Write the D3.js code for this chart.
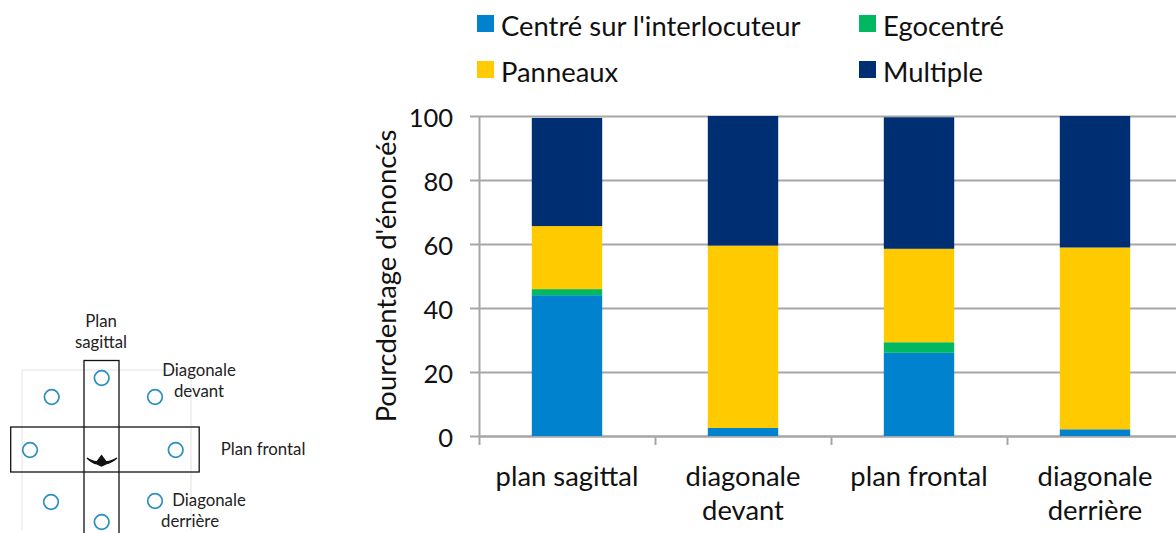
<!DOCTYPE html>
<html>
    <head>
        <meta charset="utf-8">
        <title>Pourcentage d'énoncés</title>
        <style>
            html, body { margin: 0; padding: 0; background: #fff; }
            svg { display: block; }
            text { font-family: Lato, "Open Sans", sans-serif; fill: #111; }
            .axis text { font-size: 27.4px; }
            .axis .tick text { font-size: 25.5px; }
            .legend text { font-size: 27.4px; }
            .diagram text { font-size: 16.8px; fill: #222; }
            .axis .domain, .axis line { stroke: #a6a6a6; stroke-width: 2; }
        </style>
    </head>
    <body>
        <div id="chart"></div>
        <script src="https://cdn.jsdelivr.net/npm/d3@7/dist/d3.min.js"></script>
        <script>
            var categories = ['plan sagittal', 'diagonale devant', 'plan frontal', 'diagonale derrière'];
            var categoryLines = [['plan sagittal'], ['diagonale', 'devant'], ['plan frontal'], ['diagonale', 'derrière']];
            var seriesNames = ["Centré sur l'interlocuteur", 'Egocentré', 'Panneaux', 'Multiple'];
            var seriesColors = ['#0082ce', '#00b85f', '#ffca00', '#002e73'];
            var centre = [44.0, 2.5, 26.0, 2.1];
            var ego = [1.9, 0, 3.3, 0];
            var panneaux = [19.7, 57.0, 29.2, 56.8];
            var multiple = [33.8, 40.5, 41.1, 41.1];
            var yTicks = [0, 20, 40, 60, 80, 100];
            var yTitle = "Pourcdentage d'énoncés";

            var width = 1176, height = 533;
            var plotLeft = 479, plotRight = 1183, plotTop = 116, plotBottom = 436;

            var svg = d3.select('#chart').append('svg')
                .attr('width', width)
                .attr('height', height);

            var x = d3.scaleBand().domain(categories).range([plotLeft, plotRight])
                .paddingInner(0.6).paddingOuter(0.3);
            var xEdges = d3.scaleLinear().domain([0, categories.length]).range([plotLeft, plotRight]);
            var y = d3.scaleLinear().domain([0, 100]).range([plotBottom, plotTop]);

            // gridlines + y axis
            var yAxis = svg.append('g')
                .attr('class', 'axis')
                .attr('transform', 'translate(' + plotLeft + ',0)')
                .call(d3.axisLeft(y).tickValues(yTicks).tickSize(9).tickSizeOuter(0).tickPadding(17));
            yAxis.selectAll('.tick').append('line')
                .attr('x1', 0)
                .attr('x2', width - plotLeft);
            yAxis.selectAll('.tick text').attr('dy', '0.42em');

            // x axis: ticks sit between the categories
            svg.append('g')
                .attr('class', 'axis')
                .attr('transform', 'translate(0,' + plotBottom + ')')
                .call(d3.axisBottom(xEdges).tickValues(d3.range(categories.length + 1))
                    .tickSize(9).tickSizeOuter(0).tickFormat(''));

            // stacked bars
            var rows = categories.map(function(c, i) {
                return { cat: c, 0: centre[i], 1: ego[i], 2: panneaux[i], 3: multiple[i] };
            });
            var stacked = d3.stack().keys([0, 1, 2, 3])(rows);
            svg.append('g').selectAll('g')
                .data(stacked)
                .enter().append('g')
                .attr('fill', function(d, i) { return seriesColors[i]; })
                .selectAll('rect')
                .data(function(d) { return d; })
                .enter().append('rect')
                .attr('x', function(d) { return x(d.data.cat); })
                .attr('width', x.bandwidth())
                .attr('y', function(d) { return y(d[1]); })
                .attr('height', function(d) { return y(d[0]) - y(d[1]); });

            // category labels
            var labels = svg.append('g').attr('class', 'axis');
            categories.forEach(function(c, i) {
                var t = labels.append('text')
                    .attr('text-anchor', 'middle');
                categoryLines[i].forEach(function(line, j) {
                    t.append('tspan')
                        .attr('x', x(c) + x.bandwidth() / 2)
                        .attr('y', 486 + j * 34)
                        .text(line);
                });
            });

            // y title
            svg.append('g').attr('class', 'axis').append('text')
                .attr('transform', 'translate(396,276) rotate(-90)')
                .attr('text-anchor', 'middle')
                .text(yTitle);

            // legend, two columns
            var legendX = [477, 859];
            var legendY = [15, 61];
            var legend = svg.append('g').attr('class', 'legend')
                .selectAll('g')
                .data(seriesNames)
                .enter().append('g')
                .attr('transform', function(d, i) {
                    return 'translate(' + legendX[i % 2] + ',' + legendY[i >> 1] + ')';
                });
            legend.append('rect')
                .attr('width', 17)
                .attr('height', 17)
                .attr('fill', function(d, i) { return seriesColors[i]; });
            legend.append('text')
                .attr('x', 24)
                .attr('y', 21)
                .text(function(d) { return d; });

            // small diagram on the left
            var diagramLabels = [
                { lines: ['Plan'], x: 101, y: 327 },
                { lines: ['sagittal'], x: 101, y: 348 },
                { lines: ['Diagonale'], x: 199, y: 376 },
                { lines: ['devant'], x: 199, y: 397 },
                { lines: ['Plan frontal'], x: 263, y: 455 },
                { lines: ['Diagonale'], x: 209, y: 506 },
                { lines: ['derrière'], x: 190, y: 527 }
            ];
            var diagramCircles = [
                [101.7, 378], [51.7, 397], [155, 397], [30, 450],
                [175.7, 450], [51, 502], [155, 501], [101.7, 522]
            ];
            var diagram = svg.append('g').attr('class', 'diagram');
            diagram.append('path')
                .attr('d', 'M22,530V370H191V530')
                .attr('fill', 'none')
                .attr('stroke', '#e2e2e2');
            diagram.append('rect')
                .attr('x', 84).attr('y', 360.5).attr('width', 35).attr('height', 190)
                .attr('fill', 'none').attr('stroke', '#111').attr('stroke-width', 1.3);
            diagram.append('rect')
                .attr('x', 10.7).attr('y', 427).attr('width', 188.5).attr('height', 45)
                .attr('fill', 'none').attr('stroke', '#111').attr('stroke-width', 1.3);
            diagram.selectAll('circle')
                .data(diagramCircles)
                .enter().append('circle')
                .attr('cx', function(d) { return d[0]; })
                .attr('cy', function(d) { return d[1]; })
                .attr('r', 7.3)
                .attr('fill', '#fff')
                .attr('stroke', '#2b8fc0')
                .attr('stroke-width', 1.7);
            // person seen from above
            diagram.append('path')
                .attr('d', 'M87,458Q93,462 97,461.5L101.5,455.5L106,461.5Q110,462 117,458Q111,463 106,464L101.5,466L97,464Q92,463 87,458Z')
                .attr('fill', '#111')
                .attr('stroke', '#111')
                .attr('stroke-width', 1.2);
            diagram.selectAll('.label')
                .data(diagramLabels)
                .enter().append('text')
                .attr('class', 'label')
                .attr('text-anchor', 'middle')
                .attr('x', function(d) { return d.x; })
                .attr('y', function(d) { return d.y; })
                .text(function(d) { return d.lines[0]; });
        </script>
    </body>
</html>
